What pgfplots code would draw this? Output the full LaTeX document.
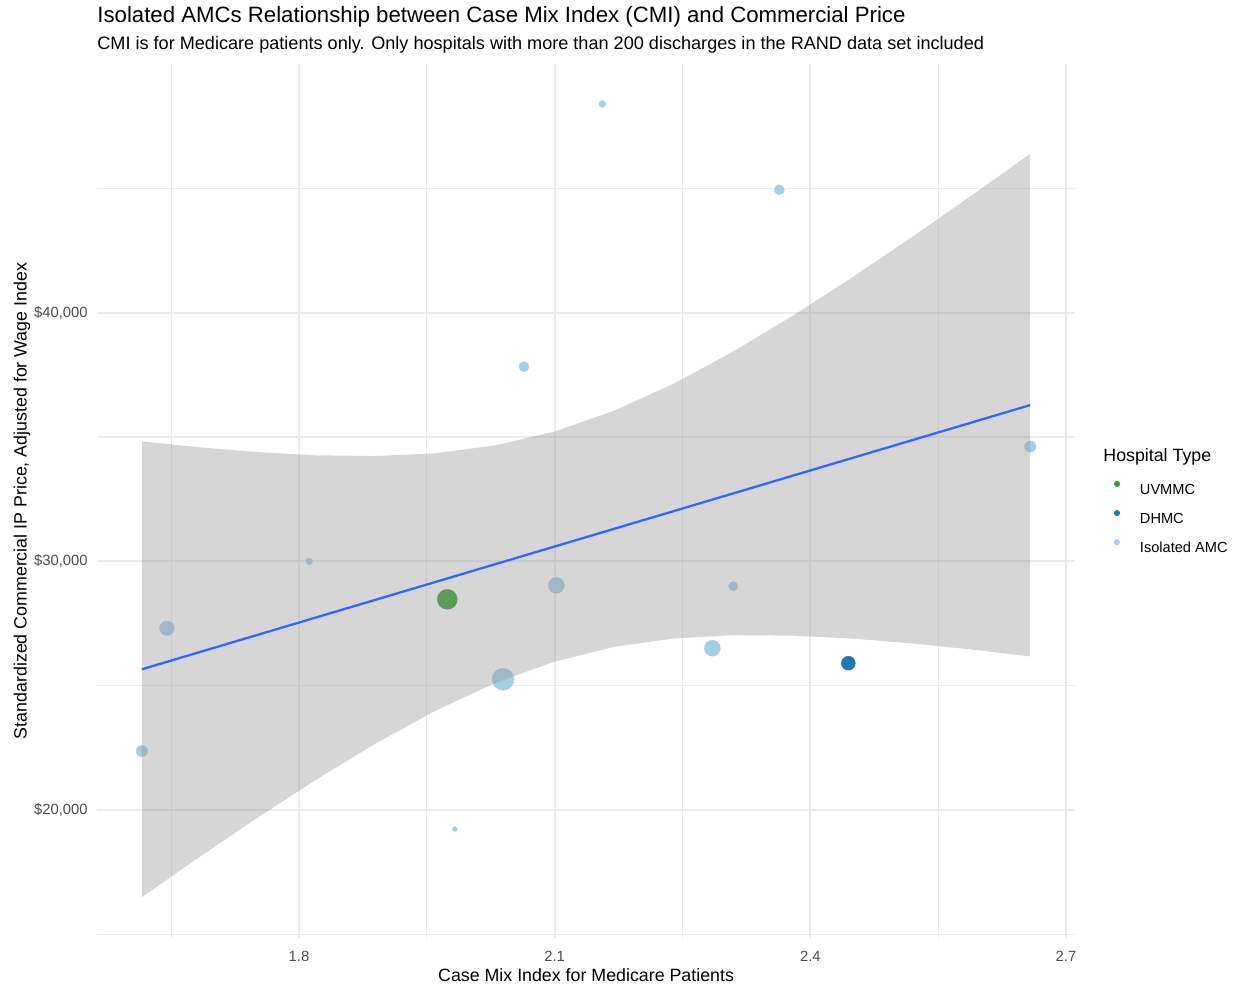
\documentclass[border=0pt]{standalone}
\usepackage{pgfplots}
\pgfplotsset{compat=1.18}
\usepackage{pgfplotstable}
\usepackage{fontspec}
\setmainfont{Liberation Sans}
\definecolor{isoc}{HTML}{A6CEE3}
\definecolor{dhmc}{HTML}{1F78B4}
\definecolor{uvm}{HTML}{33A02C}
\definecolor{smoothc}{HTML}{3366FF}
\definecolor{gridc}{HTML}{EBEBEB}
\definecolor{tickc}{HTML}{4D4D4D}
\definecolor{bandc}{HTML}{999999}

\pgfplotstableread{
x y r
1.6157 22370 5.7
1.645 27310 7.3
1.812 30000 3.3
1.983 19237 2.4
2.0395 25261 11
2.064 37831 5
2.102 29036 8
2.156 48393 3.4
2.285 26506 8
2.3096 29000 4.7
2.3636 44939 5
2.658 34618 5.7
}\isodata

\pgfplotstableread{
x y r
1.974 28474 10
}\uvmdata

\pgfplotstableread{
x y r
2.4446 25904 7
}\dhmcdata

% confidence band outline: upper bound left to right, then lower bound right to left
\pgfplotstableread{
x y
1.6157 34824
1.68 34596
1.75 34396
1.82 34265
1.89 34235
1.96 34348
2.03 34660
2.10 35222
2.17 36058
2.24 37149
2.31 38445
2.38 39889
2.45 41438
2.52 43059
2.59 44731
2.658 46390
2.658 26178
2.59 26452
2.52 26697
2.45 26891
2.38 27012
2.31 27030
2.24 26898
2.17 26562
2.10 25971
2.03 25106
1.96 23991
1.89 22677
1.82 21220
1.75 19662
1.68 18034
1.6157 16496
}\banddata

\begin{document}
\begin{tikzpicture}
\begin{axis}[
 at={(48.75pt,25.7pt)}, anchor=south west,
 scale only axis, width=488.55pt, height=436.65pt,
 xmin=1.5636, xmax=2.7101, ymin=14870, ymax=49989,
 clip marker paths=true,
 scaled x ticks=false, scaled y ticks=false,
 xtick={1.8,2.1,2.4,2.7}, xticklabels={1.8,2.1,2.4,2.7},
 minor xtick={1.65,1.95,2.25,2.55},
 ytick={20000,30000,40000,50000},
 yticklabels={{\$20,000},{\$30,000},{\$40,000},{\$50,000}},
 minor ytick={15000,25000,35000,45000},
 grid=both,
 major grid style={gridc, line width=1pt},
 minor grid style={gridc, line width=0.55pt},
 axis line style={draw=none}, tick style={draw=none},
 major tick length=0pt, minor tick length=0pt,
 /pgf/number format/assume math mode=true,
 tick label style={font=\fontsize{7.4}{8}\selectfont, text=tickc},
 xticklabel style={anchor=base, inner sep=0pt, yshift=-12.2pt},
 yticklabel style={anchor=east, inner sep=0pt, xshift=-4.75pt},
 xlabel={Case Mix Index for Medicare Patients},
 ylabel={Standardized Commercial IP Price, Adjusted for Wage Index},
 label style={font=\fontsize{8.9}{10}\selectfont},
 xlabel style={at={([yshift=-22.2pt]axis description cs:0.5,0)}, anchor=base, inner sep=0pt},
 ylabel style={at={([xshift=-35.4pt]axis description cs:0,0.5)}, anchor=base, inner sep=0pt},
 legend style={at={(1.0407,0.5225)}, anchor=north west, draw=none, fill=none,
   inner sep=0pt, outer sep=0pt, row sep=6pt,
   font=\fontsize{7.3}{8}\selectfont,
   nodes={inner sep=0pt, text height=6pt, text depth=2pt},
   /tikz/every odd column/.append style={column sep=10.2pt}},
 legend cell align=left,
 legend image code/.code={\draw[#1] plot coordinates {(1.3pt,3.3pt)};},
]
% points
\addplot[forget plot, scatter, only marks, mark=*,
  scatter/use mapped color={draw=isoc, fill=isoc},
  mark options={line width=0.2pt},
  visualization depends on={0.5*\thisrow{r} \as \msize},
  scatter/@pre marker code/.append style={/tikz/mark size=\msize}]
  table[x=x,y=y]{\isodata};
\addplot[forget plot, scatter, only marks, mark=*,
  scatter/use mapped color={draw=uvm, fill=uvm},
  mark options={line width=0.2pt},
  visualization depends on={0.5*\thisrow{r} \as \msize},
  scatter/@pre marker code/.append style={/tikz/mark size=\msize}]
  table[x=x,y=y]{\uvmdata};
\addplot[forget plot, scatter, only marks, mark=*,
  scatter/use mapped color={draw=dhmc, fill=dhmc},
  mark options={line width=0.2pt},
  visualization depends on={0.5*\thisrow{r} \as \msize},
  scatter/@pre marker code/.append style={/tikz/mark size=\msize}]
  table[x=x,y=y]{\dhmcdata};
% confidence band (drawn over the points, as in the reference)
\addplot[forget plot, fill=bandc, fill opacity=0.4, draw=none] table[x=x,y=y]{\banddata} -- cycle;
% regression line
\addplot[forget plot, smoothc, line width=1.15pt] coordinates {(1.6157,25659.7) (2.658,36284)};
% legend
\addlegendimage{only marks, mark=*, mark size=1.3pt, color=uvm, mark options={draw=uvm, fill=uvm}}
\addlegendentry{UVMMC}
\addlegendimage{only marks, mark=*, mark size=1.3pt, color=dhmc, mark options={draw=dhmc, fill=dhmc}}
\addlegendentry{DHMC}
\addlegendimage{only marks, mark=*, mark size=1.3pt, color=isoc, mark options={draw=isoc, fill=isoc}}
\addlegendentry{Isolated AMC}
\end{axis}
\node[anchor=base west, inner sep=0pt, font=\fontsize{8.9}{10}\selectfont] at (551.5pt,263.65pt) {Hospital Type};
\node[anchor=base west, inner sep=0pt, font=\fontsize{11.1}{12}\selectfont] at (48.5pt,483pt) {Isolated AMCs Relationship between Case Mix Index (CMI) and Commercial Price};
\node[anchor=base west, inner sep=0pt, font=\fontsize{9.05}{10}\selectfont] at (48.5pt,469.5pt) {CMI is for Medicare patients only. Only hospitals with more than 200 discharges in the RAND data set included};
\pgfresetboundingbox
\path[use as bounding box] (0,0) rectangle (619.5pt,494.5pt);
\end{tikzpicture}
\end{document}
